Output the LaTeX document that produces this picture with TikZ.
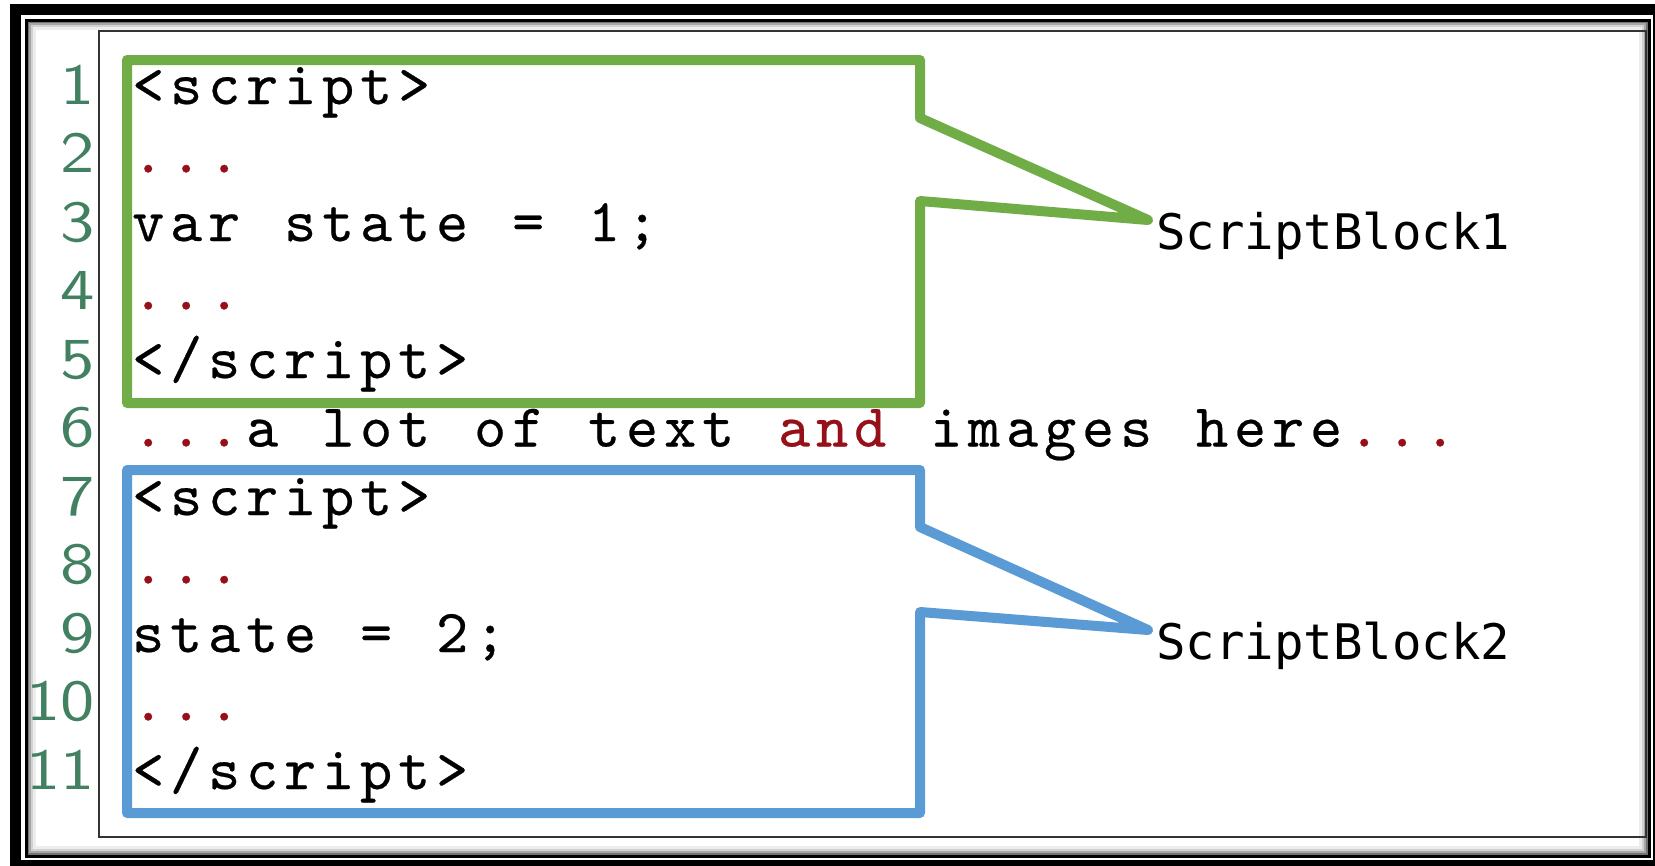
\documentclass[tikz,border=0pt]{standalone}
\usepackage{fontspec}
\newfontfamily\lblfont{DejaVu Sans Mono}
\newfontfamily\codefont{lmmono10-regular}[Extension=.otf, FakeBold=0.4]
\newfontfamily\numfont{lmsans10-regular}[Extension=.otf, FakeStretch=1.18]
\definecolor{gboxc}{RGB}{112,173,71}
\definecolor{bboxc}{RGB}{91,155,213}
\definecolor{numc}{RGB}{66,128,98}
\definecolor{codered}{RGB}{150,15,25}
\def\fxend{FXENDMARK}
\def\fx#1{\fxi#1\fxend}
\def\fxi#1{\ifx#1\fxend\else\makebox[38pt]{#1}\expandafter\fxi\fi}
\tikzset{
  codetxt/.style={anchor=base west, inner sep=0pt, font=\codefont\fontsize{61}{63}\selectfont, text=black},
  codedots/.style={codetxt, text=codered},
  lnum/.style={anchor=base east, inner sep=0pt, font=\numfont\fontsize{58}{60}\selectfont, text=numc},
  lbl/.style={anchor=base west, inner sep=0pt, font=\lblfont\fontsize{49}{51}\selectfont, text=black},
  callout/.style={line width=10pt, line join=round, line cap=round},
}
\begin{document}
\begin{tikzpicture}[x=1pt,y=-1pt]
\useasboundingbox (0,0) rectangle (1655,865);
\clip (0,0) rectangle (1655,865);
% outer frame
\fill[white] (0,0) rectangle (1655,865);
\fill[black] (10,4) rectangle (1700,900);
\fill[white] (21,15) rectangle (1653,860);
% inner frame with shadow
\fill[black!55] (26,20) rectangle (1649,856);
\fill[black!35] (29,23) rectangle (1646,853);
\fill[black!18] (31,25) rectangle (1644,851);
\fill[black!7] (33,27) rectangle (1642,849);
\fill[white] (36,30) rectangle (1639,846);
\draw[black, line width=3pt] (26,20) rectangle (1649,856);
% listing frame
\draw[black!80, line width=2pt] (99,31) rectangle (1646,837);

% line numbers
\foreach \k in {1,...,11}
  \node[lnum] (n\k) at (95,{104+68.5*(\k-1)}) {\k};

% code lines (column c starts at 129+38c)
\node[codetxt]  (c1)  at (129,104)   {\fx{<script>}};
\node[codedots] (c2)  at (129,172.5) {\fx{...}};
\node[codetxt]  (c3)  at (129,241)   {\fx{var~state~=~1;}};
\node[codedots] (c4)  at (129,309.5) {\fx{...}};
\node[codetxt]  (c5)  at (129,378)   {\fx{</script>}};
\node[codedots] (c6a) at (129,446.5) {\fx{...}};
\node[codetxt]  (c6b) at (243,446.5) {\fx{a~lot~of~text}};
\node[codedots] (c6c) at (775,446.5) {\fx{and}};
\node[codetxt]  (c6d) at (927,446.5) {\fx{images~here}};
\node[codedots] (c6e) at (1345,446.5) {\fx{...}};
\node[codetxt]  (c7)  at (129,515)   {\fx{<script>}};
\node[codedots] (c8)  at (129,583.5) {\fx{...}};
\node[codetxt]  (c9)  at (129,652)   {\fx{state~=~2;}};
\node[codedots] (c10) at (129,720.5) {\fx{...}};
\node[codetxt]  (c11) at (129,789)   {\fx{</script>}};

% labels
\node[lbl] (sb1) at (1156,249) {ScriptBlock1};
\node[lbl] (sb2) at (1156,659) {ScriptBlock2};
\coordinate (tip1) at (1148,220);
\coordinate (tip2) at (1148,630);

% callout boxes
\draw[callout, gboxc] (127,60) -- (920,60) -- (920,118) -- (tip1) -- (920,201) -- (920,403) -- (127,403) -- cycle;
\draw[callout, bboxc] (127,470) -- (920,470) -- (920,527) -- (tip2) -- (920,612) -- (920,813) -- (127,813) -- cycle;
\end{tikzpicture}
\end{document}
